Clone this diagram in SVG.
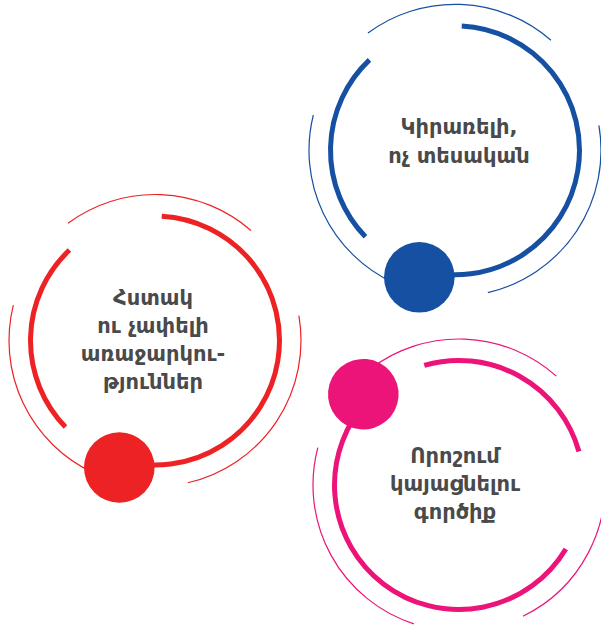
<svg xmlns="http://www.w3.org/2000/svg" width="601" height="626" viewBox="0 0 601 626">
<style>
.thin{fill:none;stroke-width:1.2}
.thick{fill:none;stroke-width:5}
.lbl{font-family:"DejaVu Sans","Noto Sans",sans-serif;font-weight:bold;font-size:21px;fill:#4a4a4a;text-anchor:middle}
.blue{stroke:#1650a2}
.red{stroke:#ed2224}
.pink{stroke:#ec1478}
</style>
<rect width="601" height="626" fill="#ffffff"/>
<g id="node-blue">
<g transform="translate(455,150.3)">
<path class="thin blue" d="M -87.05 -117.21 A 146 146 0 0 1 95.98 -110.03"/>
<path class="thin blue" d="M 143.87 -24.85 A 146 146 0 0 1 32.85 142.26"/>
<path class="thin blue" d="M -61.70 132.32 A 146 146 0 0 1 -141.66 -35.32"/>
<path class="thick blue" d="M 6.73 -124.32 A 124.5 124.5 0 1 1 -33.69 119.86"/>
<path class="thick blue" d="M -89.56 86.49 A 124.5 124.5 0 0 1 -85.54 -90.46"/>
<circle cx="-35.7" cy="127" r="35.3" fill="#1650a2"/>
</g>
<text class="lbl" x="459" y="134">Կիրառելի,</text>
<text class="lbl" x="459" y="163">ոչ տեսական</text>
</g>
<g id="node-red">
<g transform="translate(155,340.5)">
<path class="thin red" d="M -87.05 -117.21 A 146 146 0 0 1 95.98 -110.03"/>
<path class="thin red" d="M 143.87 -24.85 A 146 146 0 0 1 32.85 142.26"/>
<path class="thin red" d="M -61.70 132.32 A 146 146 0 0 1 -141.66 -35.32"/>
<path class="thick red" d="M 6.73 -124.32 A 124.5 124.5 0 1 1 -33.69 119.86"/>
<path class="thick red" d="M -89.56 86.49 A 124.5 124.5 0 0 1 -85.54 -90.46"/>
<circle cx="-35.7" cy="127" r="35.3" fill="#ed2224"/>
</g>
<text class="lbl" x="153" y="305">Հստակ</text>
<text class="lbl" x="153" y="333">ու չափելի</text>
<text class="lbl" x="153" y="361">առաջարկու-</text>
<text class="lbl" x="153" y="389">թյուններ</text>
</g>
<g id="node-pink">
<g transform="translate(459,485) rotate(117.8)">
<path class="thin pink" d="M -87.05 -117.21 A 146 146 0 0 1 86.23 -117.82"/>
<path class="thin pink" d="M 143.87 -24.85 A 146 146 0 0 1 32.85 142.26"/>
<path class="thin pink" d="M -61.70 132.32 A 146 146 0 0 1 -141.66 -35.32"/>
<path class="thick pink" d="M 6.73 -124.32 A 124.5 124.5 0 1 1 -33.69 119.86"/>
<path class="thick pink" d="M -89.56 86.49 A 124.5 124.5 0 0 1 -85.54 -90.46"/>
<circle cx="-35.7" cy="127" r="35.3" fill="#ec1478"/>
</g>
<text class="lbl" x="455" y="463">Որոշում</text>
<text class="lbl" x="455" y="491">կայացնելու</text>
<text class="lbl" x="455" y="519">գործիք</text>
</g>
</svg>
